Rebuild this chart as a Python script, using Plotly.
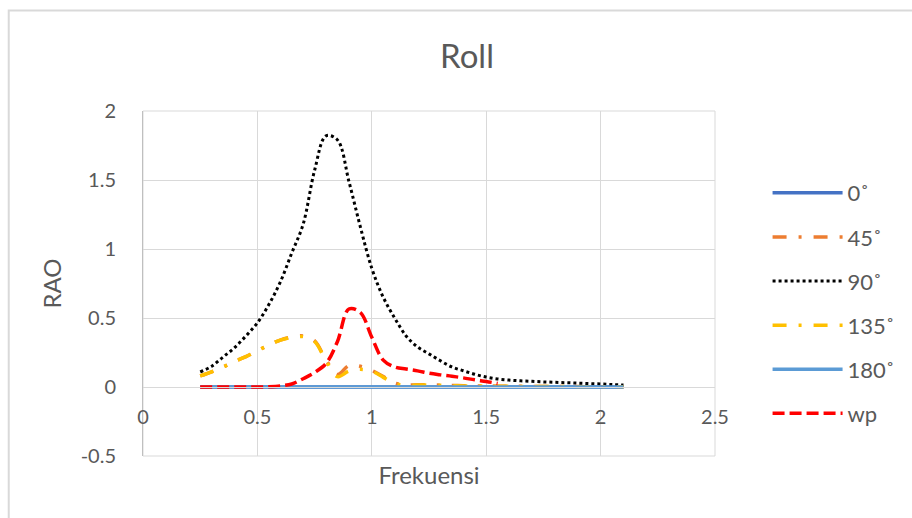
import plotly.graph_objects as go

# Wave frequency (rad/s)
frekuensi = [0.25, 0.30, 0.35, 0.40, 0.45, 0.50, 0.55, 0.60, 0.65, 0.70,
             0.75, 0.80, 0.85, 0.90, 0.95, 1.00, 1.05, 1.10, 1.15, 1.20,
             1.25, 1.30, 1.35, 1.40, 1.45, 1.50, 1.55, 1.60, 1.65, 1.70,
             1.75, 1.80, 1.85, 1.90, 1.95, 2.00, 2.05, 2.10]

# Roll RAO per heading
rao_0 = [0.0, 0.0, 0.0, 0.0, 0.0, 0.0, 0.0, 0.0, 0.0, 0.0,
         0.0, 0.0, 0.0, 0.0, 0.0, 0.0, 0.0, 0.0, 0.0, 0.0,
         0.0, 0.0, 0.0, 0.0, 0.0, 0.0, 0.0, 0.0, 0.0, 0.0,
         0.0, 0.0, 0.0, 0.0, 0.0, 0.0, 0.0, 0.0]
rao_45 = [0.08, 0.11, 0.145, 0.185, 0.22, 0.262, 0.305, 0.34, 0.362, 0.37,
          0.335, 0.195, 0.09, 0.155, 0.15, 0.12, 0.075, 0.028, 0.014, 0.016,
          0.016, 0.013, 0.011, 0.009, 0.008, 0.007, 0.006, 0.005, 0.005, 0.004,
          0.004, 0.003, 0.003, 0.003, 0.002, 0.002, 0.002, 0.002]
rao_90 = [0.11, 0.15, 0.217, 0.285, 0.37, 0.465, 0.597, 0.76, 0.97, 1.18,
          1.57, 1.82, 1.79, 1.49, 1.16, 0.86, 0.65, 0.50, 0.37, 0.29,
          0.24, 0.19, 0.145, 0.118, 0.092, 0.072, 0.058, 0.050, 0.045, 0.041,
          0.037, 0.034, 0.031, 0.028, 0.025, 0.022, 0.018, 0.014]
rao_135 = [0.08, 0.11, 0.145, 0.185, 0.22, 0.262, 0.305, 0.34, 0.36, 0.365,
           0.33, 0.19, 0.075, 0.115, 0.128, 0.115, 0.07, 0.025, 0.012, 0.014,
           0.015, 0.012, 0.01, 0.008, 0.007, 0.006, 0.005, 0.005, 0.004, 0.004,
           0.003, 0.003, 0.003, 0.002, 0.002, 0.002, 0.002, 0.002]
rao_180 = [0.0, 0.0, 0.0, 0.0, 0.0, 0.0, 0.0, 0.0, 0.0, 0.0,
           0.0, 0.0, 0.0, 0.0, 0.0, 0.0, 0.0, 0.0, 0.0, 0.0,
           0.0, 0.0, 0.0, 0.0, 0.0, 0.0, 0.0, 0.0, 0.0, 0.0,
           0.0, 0.0, 0.0, 0.0, 0.0, 0.0, 0.0, 0.0]
rao_wp = [0.0, 0.0, 0.0, 0.0, 0.0, 0.0, 0.002, 0.008, 0.022, 0.06,
          0.105, 0.17, 0.33, 0.565, 0.54, 0.36, 0.195, 0.145, 0.13, 0.117,
          0.10, 0.088, 0.078, 0.066, 0.052, 0.04, 0.026, None, None, None,
          None, None, None, None, None, None, None, None]

series_names = ["0˚", "45˚", "90˚", "135˚", "180˚", "wp"]
x_ticks = [0, 0.5, 1, 1.5, 2, 2.5]
y_ticks = [-0.5, 0, 0.5, 1, 1.5, 2]

FONT = "Lato, 'Open Sans', sans-serif"
TEXT = "#595959"
GRID = "#D9D9D9"

styles = [
    dict(color="#4472C4", width=3.5, dash="solid"),
    dict(color="#ED7D31", width=3.5, dash="14px,12px,3px,12px"),
    dict(color="#000000", width=3, dash="dot"),
    dict(color="#FFC000", width=3.5, dash="14px,12px,3px,12px"),
    dict(color="#5B9BD5", width=3.5, dash="solid"),
    dict(color="#FF0000", width=3.5, dash="12px,5px"),
]
values = [rao_0, rao_45, rao_90, rao_135, rao_180, rao_wp]

fig = go.Figure()
for i, (name, ys, st) in enumerate(zip(series_names, values, styles)):
    fig.add_trace(go.Scatter(
        x=frekuensi, y=ys, name=name, mode="lines",
        line=dict(color=st["color"], width=st["width"], dash=st["dash"],
                  shape="spline", smoothing=1),
        legendgroup=f"g{i}",
        connectgaps=False,
    ))

fig.update_layout(
    width=912, height=518,
    margin=dict(l=143, r=196, t=111, b=62),
    paper_bgcolor="white", plot_bgcolor="white",
    font=dict(family=FONT, color=TEXT, size=20),
    title=dict(text="Roll", x=467 / 912, xref="container", xanchor="center",
               y=1 - 56 / 518, yref="container", yanchor="middle",
               font=dict(size=33, color=TEXT, family=FONT)),
    xaxis=dict(
        range=[0, 2.5], tickvals=x_ticks, ticktext=[f"{v:g}" for v in x_ticks],
        showgrid=True, gridcolor=GRID, gridwidth=1, zeroline=False,
        showline=True, linecolor=GRID, linewidth=1,
        anchor="free", position=0.2,
        ticks="", ticklabelstandoff=12,
        tickfont=dict(size=20, color=TEXT),
        title=dict(text="Frekuensi", standoff=40, font=dict(size=24, color=TEXT)),
    ),
    yaxis=dict(
        range=[-0.5, 2], tickvals=y_ticks, ticktext=[f"{v:g}" for v in y_ticks],
        showgrid=True, gridcolor=GRID, gridwidth=1, zeroline=False,
        showline=True, linecolor="#BFBFBF", linewidth=1,
        ticks="", ticklabelstandoff=22,
        tickfont=dict(size=20, color=TEXT),
        title=dict(text="RAO", standoff=12, font=dict(size=24, color=TEXT)),
    ),
    legend=dict(
        x=1.09, y=0.823, xanchor="left", yanchor="top",
        font=dict(size=22, color=TEXT),
        tracegroupgap=12.5, itemwidth=70,
        bgcolor="rgba(0,0,0,0)",
    ),
    shapes=[
        # outer chart border
        dict(type="rect", xref="paper", yref="paper",
             x0=(8.5 - 143) / 573, x1=(930 - 143) / 573,
             y0=(456 - 540) / 345, y1=(456 - 10.5) / 345,
             line=dict(color=GRID, width=2), fillcolor="rgba(0,0,0,0)",
             layer="below"),
        # plot-area frame (outermost grid lines)
        dict(type="rect", xref="x domain", yref="y domain",
             x0=0, x1=1, y0=0, y1=1,
             line=dict(color=GRID, width=1), fillcolor="rgba(0,0,0,0)",
             layer="below"),
    ],
)

fig.write_html("out.html")
